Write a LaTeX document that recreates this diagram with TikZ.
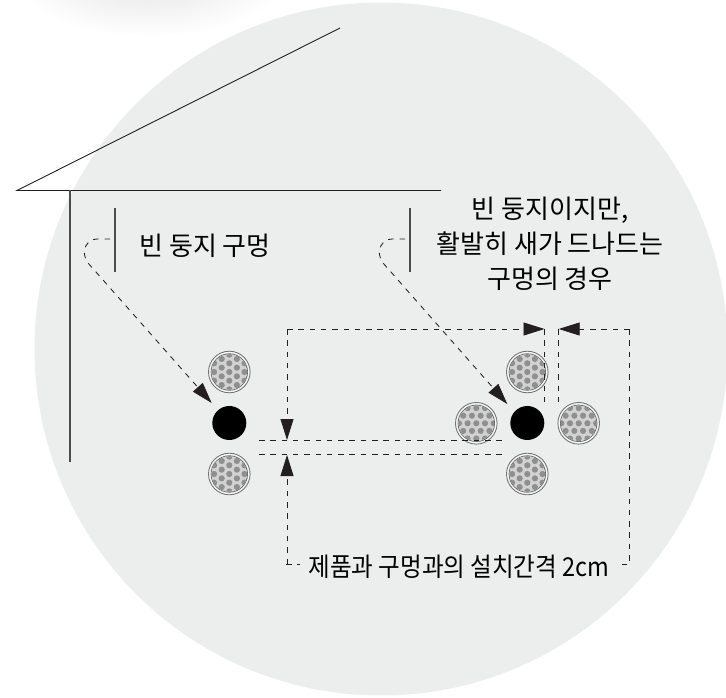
\documentclass[tikz,border=0pt]{standalone}
\usepackage{fontspec}
\setmainfont{Noto Sans CJK KR}
\usetikzlibrary{arrows.meta}
\definecolor{bgdisc}{HTML}{ECEEEE}
\definecolor{ink}{HTML}{231F20}
\definecolor{dotg}{HTML}{8F8F8F}
\definecolor{fieldg}{HTML}{D2D2D2}
\tikzset{
  x=1pt,y=-1pt,
  thin line/.style={draw=ink,line width=0.9pt},
  wall/.style={draw=black!70,line width=1.1pt},
  dash line/.style={draw=ink,line width=0.85pt,dash pattern=on 5.5pt off 5.8pt},
  big tip/.style={-{Triangle[length=21pt,width=13pt,fill=ink,color=ink]}},
  hole/.style={circle,fill=black,minimum size=34pt,inner sep=0pt,outer sep=0pt},
  label text/.style={font=\fontsize{26}{35}\selectfont,text=black,inner sep=0pt,align=center},
  cablebox/.style={circle,minimum size=44pt,inner sep=0pt,outer sep=0pt},
}
\newcommand{\cablepic}[4]{% name, x, y, rotation
  \node[cablebox] (#1) at (#2,#3) {};
  \begin{scope}[shift={(#2,#3)},rotate=#4]
    \fill[white!60!bgdisc] (0,0) circle (21.5);
    \draw[black!55,line width=0.9pt] (0,0) circle (20.8);
    \draw[black!60,line width=0.9pt] (0,0) circle (18.2);
    \begin{scope}
      \clip (0,0) circle (17.8);
      \fill[fieldg] (0,0) circle (17.8);
      \foreach \cx in {-3,...,3}{
        \foreach \cy in {-3,...,3}{
          \pgfmathsetmacro{\yoff}{Mod(abs(\cx),2)*4.35}
          \fill[dotg] (\cx*7.6,\cy*8.7+\yoff) circle (3.1);
        }
      }
    \end{scope}
  \end{scope}
}
\begin{document}
\begin{tikzpicture}
\useasboundingbox (0,0) rectangle (726,698);
\clip (0,0) rectangle (726,698);
% soft shadow at the top edge
\foreach \k in {1,...,24}{
  \fill[black,opacity=0.0055] (150,-24) ellipse ({140-5*\k} and {62-2.2*\k});
}
\fill[bgdisc] (381,349) circle (346.5);

% house
\coordinate (eave) at (17,190.5);
\coordinate (ridge) at (340,28);
\coordinate (ceilend) at (441,190.5);
\coordinate (walltop) at (70,190.5);
\coordinate (wallend) at (70,462);
\draw[thin line] (ridge) -- (eave) -- (ceilend);
\draw[wall] (walltop) -- (wallend);

% label bars
\coordinate (barAt) at (115,208);
\coordinate (barAb) at (115,272);
\coordinate (barBt) at (410,208);
\coordinate (barBb) at (410,272);
\draw[wall] (barAt) -- (barAb);
\draw[wall] (barBt) -- (barBb);

% cables and holes
\cablepic{cA}{229.3}{372}{0}
\cablepic{cB}{229.3}{474}{0}
\node[hole] (hA) at (229.3,423) {};
\cablepic{cC}{527.3}{372}{0}
\cablepic{cD}{527.3}{474}{0}
\cablepic{cE}{476.3}{423.3}{90}
\cablepic{cF}{578.7}{423.3}{90}
\node[hole] (hB) at (527.3,423) {};

% labels
\node[label text] (tA) at (205,246) {빈 둥지 구멍};
\node[label text] (tB) at (550,244) {빈 둥지이지만,\\활발히 새가 드나드는\\구멍의 경우};
\node[label text] (tC) at (459,566.5) {\scalebox{0.905}[1]{제품과 구멍과의 설치간격 2cm}};

% leader arrows
\coordinate (lAs) at (110,239);
\coordinate (lAe) at (211.7,403);
\coordinate (lBs) at (405,239);
\coordinate (lBe) at (507.3,404);
\draw[dash line,big tip] (lAs) -- (97,239) .. controls (88,239) and (79,250) .. (88,263) -- (lAe);
\draw[dash line,big tip] (lBs) -- (392,239) .. controls (383,239) and (374,250) .. (383,263) -- (lBe);

% dimension lines
\coordinate (g1) at (259,440.5);
\coordinate (g2) at (506,440.5);
\coordinate (g3) at (259,454.5);
\coordinate (g4) at (506,454.5);
\draw[dash line] (g1) -- (g2);
\draw[dash line] (g3) -- (g4);

\coordinate (corner) at (287,329);
\coordinate (tipL) at (287,440);
\coordinate (tipLb) at (287,455);
\coordinate (foot) at (286,564);
\coordinate (footv) at (287,564);
\coordinate (tipT) at (544.5,329);
\coordinate (tipTb) at (558.7,329);
\coordinate (d1) at (544.5,402);
\coordinate (d2) at (558.7,402);
\coordinate (cornerR) at (629.5,329);
\coordinate (footR) at (629.5,564);
\coordinate (endL) at (300,564);
\coordinate (endR) at (616,564);
\draw[dash line] (tipT) -- (d1);
\draw[dash line] (tipTb) -- (d2);
\draw[dash line,big tip] (corner) -- (tipL);
\draw[dash line,big tip] (corner) -- (tipT);
\draw[dash line,big tip] (cornerR) -- (tipTb);
\draw[dash line] (cornerR) -- (footR) -- (endR);
\draw[dash line,big tip] (footv) -- (tipLb);
\draw[dash line] (foot) -- (endL);
\end{tikzpicture}
\end{document}
